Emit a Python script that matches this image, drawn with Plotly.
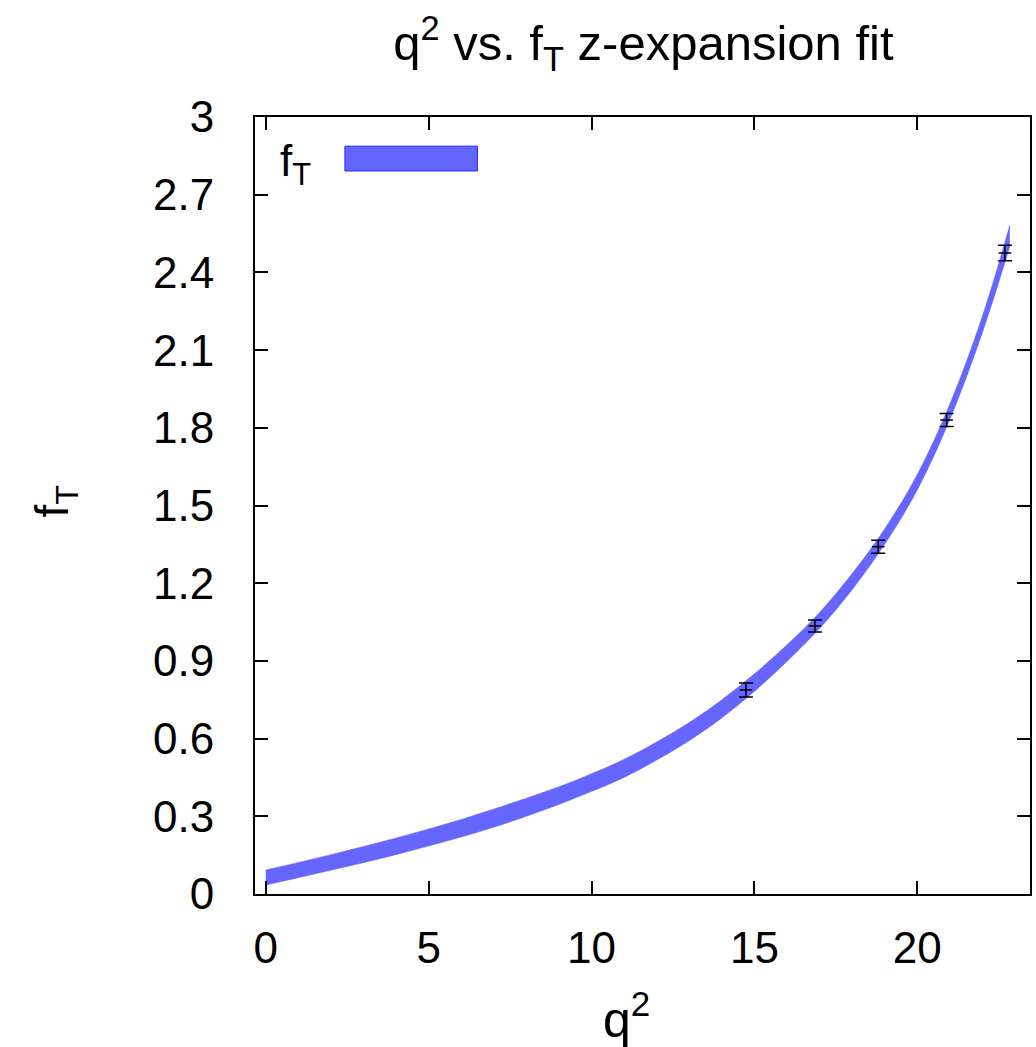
import plotly.graph_objects as go

# Fit band: q^2, lower and upper edge of f_T
band_q2 = [0, 1, 2, 3, 4, 5, 6, 7, 8, 9, 10, 11, 12, 13, 14, 15, 16, 17, 18, 19, 20, 21, 22, 22.84]
band_lo = [0.035, 0.063, 0.092, 0.121, 0.152, 0.185, 0.220, 0.258, 0.300, 0.346, 0.396, 0.450, 0.517, 0.592, 0.680, 0.782, 0.898, 1.025, 1.175, 1.350, 1.560, 1.832, 2.168, 2.500]
band_hi = [0.093, 0.122, 0.152, 0.183, 0.216, 0.251, 0.288, 0.328, 0.370, 0.414, 0.464, 0.520, 0.587, 0.662, 0.750, 0.850, 0.962, 1.087, 1.237, 1.410, 1.620, 1.892, 2.232, 2.583]

# Lattice data points
pts_q2 = [14.74, 16.86, 18.80, 20.90, 22.69]
pts_f = [0.788, 1.035, 1.341, 1.830, 2.475]
pts_err = [0.027, 0.023, 0.025, 0.025, 0.030]

x_ticks = [0, 5, 10, 15, 20]
y_ticks = [0, 0.3, 0.6, 0.9, 1.2, 1.5, 1.8, 2.1, 2.4, 2.7, 3]

FONT = "Liberation Sans, Arial, Helvetica, sans-serif"
BAND = "rgb(102,102,255)"

fig = go.Figure()
fig.add_trace(go.Scatter(x=band_q2, y=band_lo, mode="lines",
                         line=dict(color=BAND, width=0.5, shape="spline"),
                         showlegend=False, hoverinfo="skip"))
fig.add_trace(go.Scatter(x=band_q2, y=band_hi, mode="lines", fill="tonexty",
                         fillcolor=BAND,
                         line=dict(color=BAND, width=0.5, shape="spline"),
                         showlegend=False, hoverinfo="skip"))
fig.add_trace(go.Scatter(x=pts_q2, y=pts_f, mode="markers",
                         marker=dict(symbol="line-ew-open", size=9, color="black",
                                     line=dict(color="black", width=1.5)),
                         error_y=dict(type="data", array=pts_err, visible=True,
                                      color="black", thickness=1.5, width=7),
                         showlegend=False))

# Legend drawn by hand: label and coloured sample
fig.add_annotation(xref="paper", yref="paper", x=0.030, y=0.978,
                   xanchor="left", yanchor="top", showarrow=False,
                   text="f<sub>T</sub>", font=dict(family=FONT, size=44, color="black"))
fig.add_shape(type="rect", xref="paper", yref="paper",
              x0=0.116, x1=0.287, y0=0.9305, y1=0.9625,
              fillcolor="rgb(100,100,255)", line=dict(color="rgb(40,40,255)", width=1))

# Axis titles placed as annotations
fig.add_annotation(xref="paper", yref="paper", x=0.479, y=-0.113,
                   xanchor="center", yanchor="top", showarrow=False,
                   text="q<sup>2</sup>", font=dict(family=FONT, size=50, color="black"))
fig.add_annotation(xref="paper", yref="paper", x=-0.257, y=0.505,
                   xanchor="center", yanchor="middle", showarrow=False, textangle=-90,
                   text="f<sub>T</sub>", font=dict(family=FONT, size=46, color="black"))

axis_common = dict(showline=True, linecolor="black", linewidth=2, mirror="ticks",
                   ticks="inside", ticklen=13, tickwidth=1.5, tickcolor="black",
                   showgrid=False, zeroline=False,
                   tickfont=dict(family=FONT, size=44, color="black"))

fig.update_layout(
    width=1036, height=1047,
    margin=dict(l=255, r=4, t=117, b=153),
    paper_bgcolor="white", plot_bgcolor="white",
    showlegend=False,
    title=dict(text="q<sup>2</sup> vs. f<sub>T</sub> z-expansion fit",
               x=0.621, xanchor="center", y=0.975, yanchor="top",
               font=dict(family=FONT, size=49, color="black")),
    xaxis=dict(range=[-0.33, 23.46], tickvals=x_ticks, ticklabelstandoff=14,
               **axis_common),
    yaxis=dict(range=[0, 3], tickvals=y_ticks, ticktext=[f"{v:g}" for v in y_ticks],
               ticklabelstandoff=30,
               **axis_common),
)

fig.write_html("out.html")
